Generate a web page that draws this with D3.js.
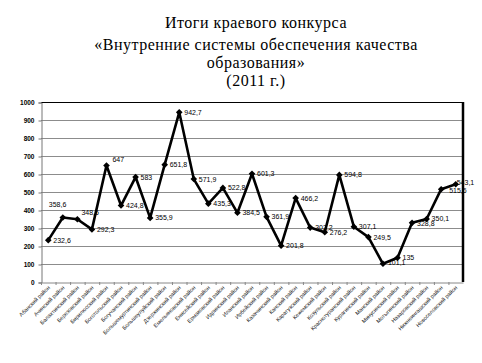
<!DOCTYPE html>
<html lang="ru">
<head>
  <meta charset="UTF-8">
  <title>Итоги краевого конкурса</title>
  <script src="https://d3js.org/d3.v7.min.js"></script>
  <style>
    body { margin: 0; background: #fff; }
    svg { display: block; }
  </style>
</head>
<body>
  <div id="chart"></div>
  <script>
    const width = 482, height = 363;

    // district names (x axis)
    const districts = [
      "Абанский район", "Ачинский район", "Балахтинский район", "Березовский район",
      "Бирилюсский район", "Боготольский район", "Богучанский район", "Большемуртинский район",
      "Большеулуйский район", "Дзержинский район", "Емельяновский район", "Енисейский район",
      "Ермаковский район", "Идринский район", "Иланский район", "Ирбейский район",
      "Казачинский район", "Канский район", "Каратузский район", "Кежемский район",
      "Козульский район", "Краснотуранский район", "Курагинский район", "Манский район",
      "Минусинский район", "Мотыгинский район", "Назаровский район", "Нижнеингашский район",
      "Новоселовский район"
    ];

    // scores
    const scores = [
      232.6, 358.6, 348.5, 292.3, 647, 424.8, 583, 355.9, 651.8, 942.7,
      571.9, 435.3, 522.8, 384.5, 601.3, 361.9, 201.8, 466.2, 302.2, 276.2,
      594.8, 307.1, 249.5, 101.1, 135, 328.8, 350.1, 515.6, 543.1
    ];

    const yTicks = [0, 100, 200, 300, 400, 500, 600, 700, 800, 900, 1000];

    const titleLines = [
      "Итоги краевого конкурса",
      "«Внутренние системы обеспечения качества",
      "образования»",
      "(2011 г.)"
    ];

    const margin = {top: 102, right: 19, bottom: 81, left: 41};

    const svg = d3.select("#chart").append("svg")
        .attr("width", width)
        .attr("height", height);

    // title
    const titleY = [28, 50, 68, 86];
    svg.append("g").selectAll("text")
      .data(titleLines)
      .join("text")
        .attr("x", 256)
        .attr("y", (d, i) => titleY[i])
        .attr("text-anchor", "middle")
        .attr("font-family", "'Liberation Serif', 'Times New Roman', serif")
        .attr("font-size", "16px")
        .attr("letter-spacing", "0.5px")
        .text(d => d);

    const x = d3.scaleBand()
        .domain(districts)
        .range([margin.left, width - margin.right]);

    const y = d3.scaleLinear()
        .domain([0, 1000])
        .range([height - margin.bottom, margin.top]);

    // gridlines
    svg.append("g")
      .selectAll("line")
      .data(yTicks.filter(d => d > 0 && d < 1000))
      .join("line")
        .attr("x1", margin.left)
        .attr("x2", width - margin.right)
        .attr("y1", d => y(d) + 0.5)
        .attr("y2", d => y(d) + 0.5)
        .attr("stroke", "#8c8c8c")
        .attr("stroke-width", 1);

    // top and right borders of plot
    svg.append("line")
      .attr("x1", margin.left).attr("x2", width - margin.right)
      .attr("y1", y(1000) + 0.5).attr("y2", y(1000) + 0.5)
      .attr("stroke", "#000");
    svg.append("line")
      .attr("x1", width - margin.right).attr("x2", width - margin.right)
      .attr("y1", y(1000)).attr("y2", y(0))
      .attr("stroke", "#000").attr("stroke-width", 2.5);

    // y axis
    const yAxis = svg.append("g")
      .attr("transform", `translate(${margin.left + 0.5},0.5)`)
      .call(d3.axisLeft(y).tickValues(yTicks).tickSize(3).tickPadding(4).tickFormat(d3.format("d")));
    yAxis.selectAll("text")
      .attr("font-family", "'Liberation Sans', Arial, sans-serif")
      .attr("font-size", "6.5px")
      .attr("font-weight", "bold")
      .attr("fill", "#000");
    yAxis.select(".domain").attr("stroke", "#777");
    yAxis.selectAll(".tick line").attr("stroke", "#777");

    // x axis
    const xAxis = svg.append("g")
      .attr("transform", `translate(0,${y(0) + 0.5})`)
      .call(d3.axisBottom(x).tickSize(0).tickFormat(""));
    xAxis.select(".domain").attr("stroke", "#888");

    // tick marks at band edges
    svg.append("g").selectAll("line")
      .data(districts)
      .join("line")
        .attr("x1", d => x(d) + 0.5)
        .attr("x2", d => x(d) + 0.5)
        .attr("y1", y(0))
        .attr("y2", y(0) + 3)
        .attr("stroke", "#888");

    // rotated category labels
    svg.append("g").selectAll("text")
      .data(districts)
      .join("text")
        .attr("transform", d => `translate(${x(d) + x.bandwidth() / 2 + 2},${y(0) + 6}) rotate(-45)`)
        .attr("text-anchor", "end")
        .attr("font-family", "'Liberation Sans', Arial, sans-serif")
        .attr("font-size", "5.5px")
        .attr("fill", "#222")
        .text(d => d);

    const pts = districts.map((d, i) => ({name: d, value: scores[i]}));

    // line
    svg.append("path")
      .datum(pts)
      .attr("fill", "none")
      .attr("stroke", "#000")
      .attr("stroke-width", 2.6)
      .attr("stroke-linejoin", "round")
      .attr("d", d3.line()
        .x(d => x(d.name) + x.bandwidth() / 2)
        .y(d => y(d.value)));

    // diamond markers
    svg.append("g").selectAll("path")
      .data(pts)
      .join("path")
        .attr("transform", d => `translate(${x(d.name) + x.bandwidth() / 2},${y(d.value)}) rotate(45)`)
        .attr("d", d3.symbol(d3.symbolSquare, 22)())
        .attr("fill", "#000");

    // label nudges for a few labels moved by hand
    const nudge = {1: [-19, -13], 2: [-1, -7], 4: [1, -6], 23: [0, -1], 25: [0, 1], 27: [3, 1], 28: [-4, -2]};

    const fmt = v => String(v).replace(".", ",");
    svg.append("g").selectAll("text")
      .data(pts)
      .join("text")
        .attr("x", (d, i) => x(d.name) + x.bandwidth() / 2 + 5 + (nudge[i] ? nudge[i][0] : 0))
        .attr("y", (d, i) => y(d.value) + 2.5 + (nudge[i] ? nudge[i][1] : 0))
        .attr("font-family", "'Liberation Sans', Arial, sans-serif")
        .attr("font-size", "7px")
        .attr("fill", "#000")
        .text(d => fmt(d.value));
  </script>
</body>
</html>
